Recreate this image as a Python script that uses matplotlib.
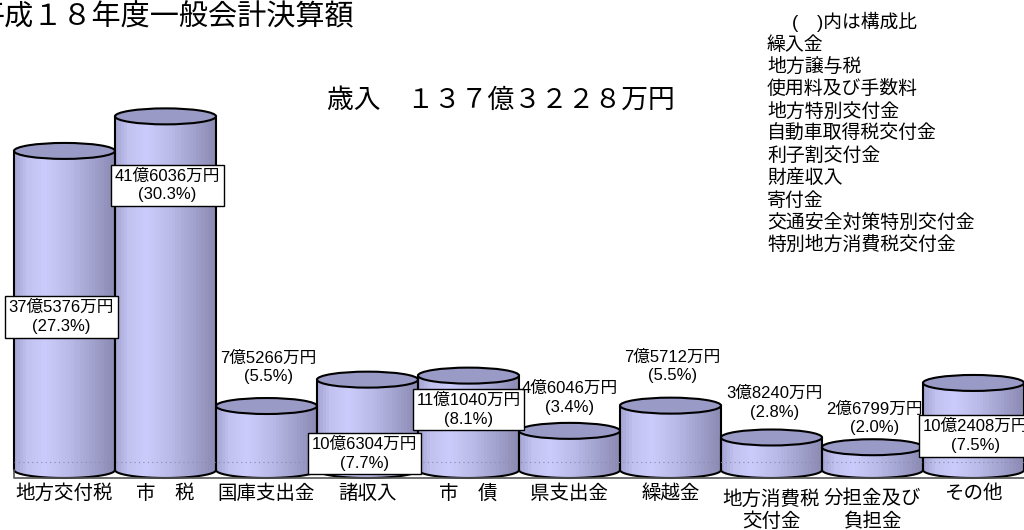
import numpy as np
import matplotlib
matplotlib.use("Agg")
from matplotlib import pyplot as plt
from matplotlib.patches import Ellipse, PathPatch
from matplotlib.path import Path
from matplotlib.colors import LinearSegmentedColormap

# ================================================================
# 0. Data (億円)
# ================================================================
categories = ["地方交付税", "市　税", "国庫支出金", "諸収入", "市　債",
              "県支出金", "繰越金", "地方消費税\n交付金", "分担金及び\n負担金", "その他"]
values = [37.5376, 41.6036, 7.5266, 10.6304, 11.1040,
          4.6046, 7.5712, 3.8240, 2.6799, 10.2408]
amount_labels = ["37億5376万円", "41億6036万円", "7億5266万円", "10億6304万円", "11億1040万円",
                 "4億6046万円", "7億5712万円", "3億8240万円", "2億6799万円", "10億2408万円"]
shares = [27.3, 30.3, 5.5, 7.7, 8.1, 3.4, 5.5, 2.8, 2.0, 7.5]
others = ["繰入金", "地方譲与税", "使用料及び手数料", "地方特別交付金", "自動車取得税交付金",
          "利子割交付金", "財産収入", "寄付金", "交通安全対策特別交付金", "特別地方消費税交付金"]
title = "平成１８年度一般会計決算額"
total_label = "歳入　１３７億３２２８万円"

# label layout: (x offset from bar centre, y in 億円, boxed)
label_dx = [-0.03, 0.02, 0.02, -0.03, 0.0, 0.0, 0.02, 0.03, 0.02, 0.02]
label_y = [18.0, 33.5, 12.1, 1.9, 7.1, 8.5, 12.2, 7.9, 6.1, 4.0]
label_boxed = [True, True, False, True, True, False, False, False, False, True]

CJK = ["Noto Sans CJK JP", "DejaVu Sans"]
LATIN_CJK = ["Liberation Sans", "Noto Sans CJK JP"]
plt.rcParams["font.family"] = CJK

# ================================================================
# 1. Figure / axes
# ================================================================
fig = plt.figure(figsize=(10.24, 5.30), dpi=100)
ax = fig.add_axes([0, 0, 1, 1])
ax.set_xlim(-0.6386, 9.5)
ax.set_ylim(-7.059, 55.294)
ax.axis("off")

RY = 0.94          # half height of the cylinder ellipses
HALF_W = 0.5

# side shading of the cylinder body, left -> right
shade = LinearSegmentedColormap.from_list("cyl", [
    (0.00, "#a8a8d6"), (0.12, "#c2c2f0"), (0.30, "#ccccfc"),
    (0.55, "#babae8"), (0.80, "#a0a0cc"), (1.00, "#8a8ab3")])
bands = shade(np.linspace(0, 1, 34))[None, :, :3]


def draw_cylinder(ax, xc, h):
    x0, x1 = xc - HALF_W, xc + HALF_W
    t = np.linspace(np.pi, 2 * np.pi, 60)
    bottom = np.column_stack([xc + HALF_W * np.cos(t), RY * np.sin(t)])
    verts = np.vstack([[x0, h], bottom, [x1, h], [x0, h]])
    codes = [Path.MOVETO] + [Path.LINETO] * (len(verts) - 2) + [Path.CLOSEPOLY]
    body = PathPatch(Path(verts, codes), facecolor="none", edgecolor="black", lw=1.5)
    img = ax.imshow(bands, extent=(x0, x1, -RY, h), aspect="auto",
                    interpolation="nearest")
    ax.add_patch(body)
    img.set_clip_path(body)
    ax.add_patch(Ellipse((xc, h), 2 * HALF_W, 2 * RY, facecolor="#9a9ac6",
                         edgecolor="black", lw=1.5))


# ================================================================
# 2. Cylinders
# ================================================================
for i, v in enumerate(values):
    draw_cylinder(ax, i, v)

# floor line
ax.plot([-0.5, -0.5, 9.5], [0, -RY, -RY], color="#555555", lw=1.2, zorder=1)
ax.plot([-0.5, 9.5], [RY, RY], color="#8a8ab0", lw=0.8, ls=(0, (1, 3)), zorder=5)

# ================================================================
# 3. Texts
# ================================================================
for i, (amt, pct) in enumerate(zip(amount_labels, shares)):
    box = dict(boxstyle="square,pad=0.22", fc="white", ec="black", lw=1.0) if label_boxed[i] else None
    ax.text(i + label_dx[i], label_y[i], f"{amt}\n({pct:.1f}%)", ha="center", va="center",
            fontsize=12, family=LATIN_CJK, linespacing=1.3, bbox=box, zorder=10)

for i, cat in enumerate(categories):
    y = -4.75 if "\n" in cat else -2.71
    ax.text(i, y, cat, ha="center", va="center", fontsize=14, linespacing=1.1)

fig.text(-0.0244, 0.968, title, ha="left", va="center", fontsize=21)
fig.text(327 / 1024, 0.811, total_label, ha="left", va="center", fontsize=19.3)

fig.text(792 / 1024, 1 - 22 / 530, "(　)内は構成比", ha="left", va="center",
         fontsize=13.5, family=LATIN_CJK)
for k, name in enumerate(others):
    fig.text(767 / 1024, 1 - (44 + 22.3 * k) / 530, name, ha="left", va="center", fontsize=13.6)

fig.savefig("out.png", dpi=100)
